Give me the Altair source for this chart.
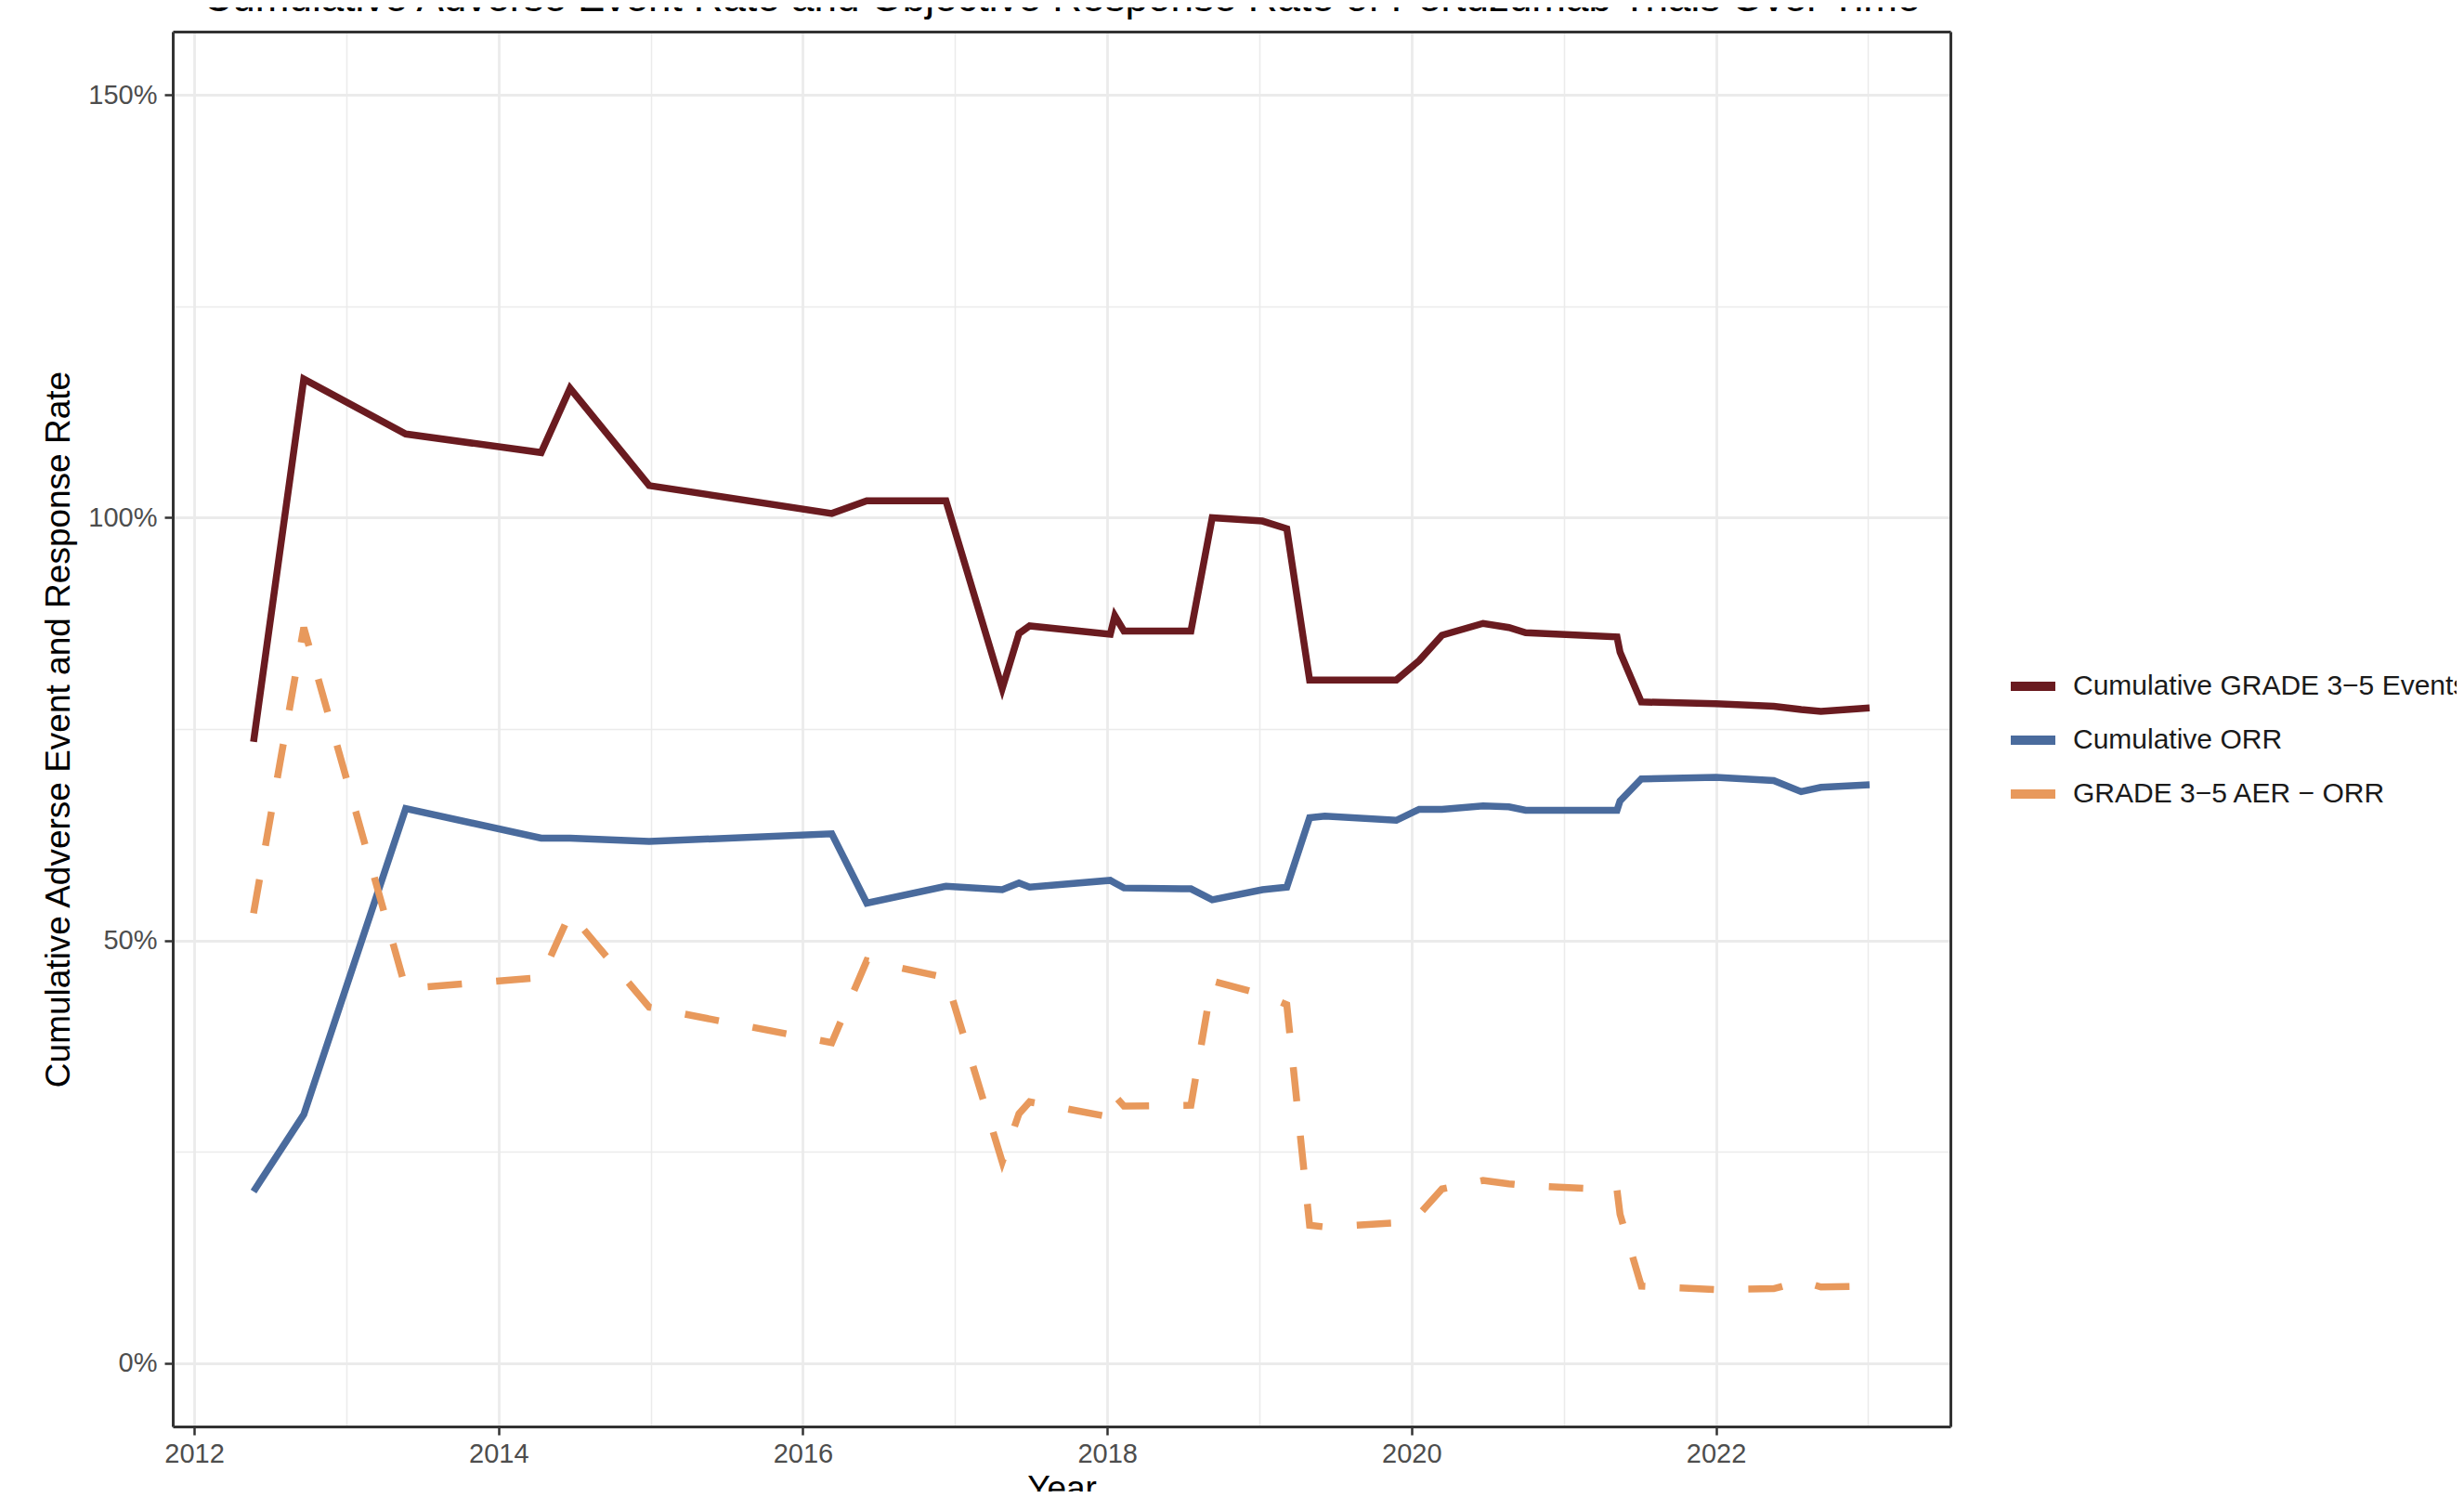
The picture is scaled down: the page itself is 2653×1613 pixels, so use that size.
import altair as alt
import pandas as pd

# ---- data ----
years = [2012.39, 2012.72, 2013.39, 2014.28, 2014.47, 2014.99, 2016.19, 2016.42,
         2016.94, 2017.31, 2017.42, 2017.49, 2018.02, 2018.05, 2018.11, 2018.55,
         2018.69, 2019.02, 2019.18, 2019.33, 2019.43, 2019.90, 2020.05, 2020.20,
         2020.47, 2020.64, 2020.75, 2021.35, 2021.37, 2021.51, 2022.00, 2022.38,
         2022.56, 2022.69, 2023.01]

grade35 = [73.5, 116.4, 109.9, 107.7, 115.3, 103.8, 100.5, 102.0,
           102.0, 79.8, 86.3, 87.2, 86.2, 88.4, 86.6, 86.6,
           100.0, 99.6, 98.7, 80.8, 80.8, 80.8, 83.1, 86.1,
           87.5, 87.0, 86.4, 85.9, 84.1, 78.2, 78.0, 77.7,
           77.3, 77.1, 77.5]

orr = [20.3, 29.4, 65.6, 62.1, 62.1, 61.7, 62.6, 54.4,
       56.4, 56.0, 56.8, 56.3, 57.1, 56.8, 56.2, 56.1,
       54.8, 56.0, 56.3, 64.5, 64.7, 64.2, 65.5, 65.5,
       65.9, 65.8, 65.4, 65.4, 66.5, 69.1, 69.3, 68.9,
       67.6, 68.1, 68.4]

diff = [53.2, 87.0, 44.3, 45.6, 53.2, 42.1, 37.9, 47.6,
        45.6, 23.8, 29.5, 30.9, 29.1, 31.6, 30.4, 30.5,
        45.2, 43.6, 42.4, 16.3, 16.1, 16.6, 17.6, 20.6,
        21.6, 21.2, 21.0, 20.5, 17.6, 9.1, 8.7, 8.8,
        9.7, 9.0, 9.1]

series_names = ["Cumulative GRADE 3\u22125 Events",
                "Cumulative ORR",
                "GRADE 3\u22125 AER \u2212 ORR"]
series_colors = ["#6A1B20", "#4A6B9D", "#E8995C"]

x_major = [2012, 2014, 2016, 2018, 2020, 2022]
x_minor = [2013, 2015, 2017, 2019, 2021, 2023]
y_major = [0, 0.5, 1.0, 1.5]
y_minor = [0.25, 0.75, 1.25]

rows = []
for name, vals in zip(series_names, [grade35, orr, diff]):
    for yr, v in zip(years, vals):
        rows.append({"Year": yr, "Rate": v / 100.0, "Series": name})
df = pd.DataFrame(rows)

xr = max(years) - min(years)
x_domain = [min(years) - 0.05 * xr, max(years) + 0.05 * xr]
y_domain = [-0.075, 1.575]

FONT = "Liberation Sans"
FRAME = "#333333"

color = alt.Color(
    "Series:N",
    scale=alt.Scale(domain=series_names, range=series_colors),
    legend=alt.Legend(
        title=None, orient="none", legendX=1974, legendY=676,
        symbolType="stroke", symbolSize=2304, symbolStrokeWidth=10,
        labelFontSize=30, labelFont=FONT, labelColor="#1A1A1A",
        labelOffset=14, rowPadding=0, clipHeight=58, padding=0,
        labelLimit=2000,
    ),
)

x_main = alt.X(
    "Year:Q",
    scale=alt.Scale(domain=x_domain, nice=False, zero=False),
    axis=alt.Axis(
        values=x_major, format="d", title="Year", grid=True,
        gridColor="#EBEBEB", gridWidth=2.8,
        domain=True, domainColor=FRAME, domainWidth=3,
        ticks=True, tickSize=9, tickWidth=2.5, tickColor=FRAME,
        labelFontSize=29, labelFont=FONT, labelColor="#4D4D4D", labelPadding=6,
        titleFontSize=37, titleFont=FONT, titleColor="#000000",
        titleFontWeight="normal", titlePadding=5,
    ),
)
y_main = alt.Y(
    "Rate:Q",
    scale=alt.Scale(domain=y_domain, nice=False, zero=False),
    axis=alt.Axis(
        values=y_major, format=".0%", title="Cumulative Adverse Event and Response Rate",
        grid=True, gridColor="#EBEBEB", gridWidth=2.8,
        domain=True, domainColor=FRAME, domainWidth=3,
        ticks=True, tickSize=9, tickWidth=2.5, tickColor=FRAME,
        labelFontSize=29, labelFont=FONT, labelColor="#4D4D4D", labelPadding=8,
        titleFontSize=37, titleFont=FONT, titleColor="#000000",
        titleFontWeight="normal", titlePadding=12,
    ),
)

solid = alt.Chart(df).transform_filter(
    alt.datum.Series != series_names[2]
).mark_line(strokeWidth=7.5, strokeJoin="miter").encode(
    x=x_main, y=y_main, color=color, order="Year:Q"
)

dashed = alt.Chart(df).transform_filter(
    alt.datum.Series == series_names[2]
).mark_line(strokeWidth=7.5, strokeDash=[37, 37]).encode(
    x=alt.X("Year:Q", axis=None),
    y=alt.Y("Rate:Q", axis=None),
    color=alt.Color("Series:N"),
    order="Year:Q",
)

minor_grid = alt.Chart(df).mark_point(opacity=0).encode(
    x=alt.X("Year:Q", axis=alt.Axis(values=x_minor, orient="top", grid=True,
                                     gridColor="#EBEBEB", gridWidth=1.5,
                                     labels=False, ticks=False,
                                     domain=True, domainColor=FRAME, domainWidth=3,
                                     minExtent=0, maxExtent=0,
                                     title=None)),
    y=alt.Y("Rate:Q", axis=alt.Axis(values=y_minor, orient="right", grid=True,
                                     gridColor="#EBEBEB", gridWidth=1.5,
                                     labels=False, ticks=False,
                                     domain=True, domainColor=FRAME, domainWidth=3,
                                     minExtent=0, maxExtent=0,
                                     title=None)),
)

chart = alt.layer(minor_grid, solid, dashed).resolve_axis(
    x="independent", y="independent"
).properties(
    width=1914, height=1502,
    padding={"left": 178, "top": 26, "right": 545, "bottom": 70},
    autosize=alt.AutoSizeParams(type="none"),
    title=alt.TitleParams(
        "Cumulative Adverse Event Rate and Objective Response Rate of Pertuzumab Trials Over Time",
        fontSize=44, font=FONT, fontWeight="normal", color="#000000",
        anchor="middle", frame="group", offset=0, dy=22, baseline="alphabetic",
    ),
).configure_view(
    stroke=FRAME, strokeWidth=3
).configure(background="white")

chart.save("out.html", embed_options={"renderer": "svg", "actions": False})
